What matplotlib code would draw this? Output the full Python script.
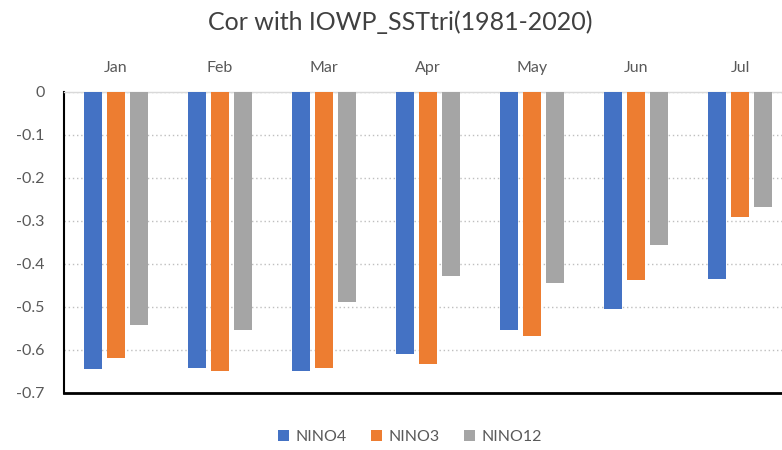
import numpy as np
import matplotlib
matplotlib.use('Agg')
import matplotlib.pyplot as plt

plt.rcParams['font.family'] = ['Lato', 'DejaVu Sans']
plt.rcParams['axes.unicode_minus'] = False

# data
months = ['Jan', 'Feb', 'Mar', 'Apr', 'May', 'Jun', 'Jul']
nino4 = [-0.645, -0.643, -0.649, -0.610, -0.554, -0.505, -0.435]
nino3 = [-0.619, -0.649, -0.643, -0.633, -0.568, -0.437, -0.291]
nino12 = [-0.543, -0.554, -0.489, -0.427, -0.445, -0.355, -0.268]
series = ['NINO4', 'NINO3', 'NINO12']
colors = ['#4472C4', '#ED7D31', '#A5A5A5']
yticks = [0, -0.1, -0.2, -0.3, -0.4, -0.5, -0.6, -0.7]
ylabels = ['0', '-0.1', '-0.2', '-0.3', '-0.4', '-0.5', '-0.6', '-0.7']

txt = '#595959'
fig = plt.figure(figsize=(7.82, 4.5), dpi=100)
ax = fig.add_axes([0.0818, 0.1267, 0.9182, 0.669])

x = np.arange(len(months))
w = 0.173
step = 0.221
for i, (vals, c, name) in enumerate(zip([nino4, nino3, nino12], colors, series)):
    ax.bar(x + (i - 1) * step, vals, width=w, color=c, label=name, zorder=3)

ax.set_xlim(-0.5, 6.4)
ax.set_ylim(-0.7, 0)
ax.set_yticks(yticks)
ax.set_yticklabels(ylabels, fontsize=11.5, color=txt)
ax.set_xticks(x)
ax.set_xticklabels(months, fontsize=11.5, color=txt)
ax.xaxis.tick_top()
ax.tick_params(axis='both', length=0)
ax.tick_params(axis='x', pad=12)
ax.tick_params(axis='y', pad=14)

ax.yaxis.grid(True, linestyle=(0, (1, 2)), color='#BFBFBF', linewidth=1, zorder=0)
ax.set_axisbelow(True)

ax.spines['top'].set_color('#D9D9D9')
ax.spines['top'].set_linewidth(1)
ax.spines['right'].set_visible(False)
ax.spines['left'].set_color('black')
ax.spines['left'].set_linewidth(1.5)
ax.spines['bottom'].set_color('black')
ax.spines['bottom'].set_linewidth(2)

fig.text(400 / 782, 1 - 22 / 450, 'Cor with IOWP_SSTtri(1981-2020)', ha='center', va='center',
         fontsize=18, color='#404040')

handles, labels = ax.get_legend_handles_labels()
fig.legend(handles, labels, loc='center', bbox_to_anchor=(410 / 782, 1 - 437 / 450), ncol=3,
           frameon=False, fontsize=11.5, labelcolor=txt, handlelength=0.7, handleheight=0.7,
           handletextpad=0.4, columnspacing=1.5)

fig.savefig('out.png', dpi=100)
